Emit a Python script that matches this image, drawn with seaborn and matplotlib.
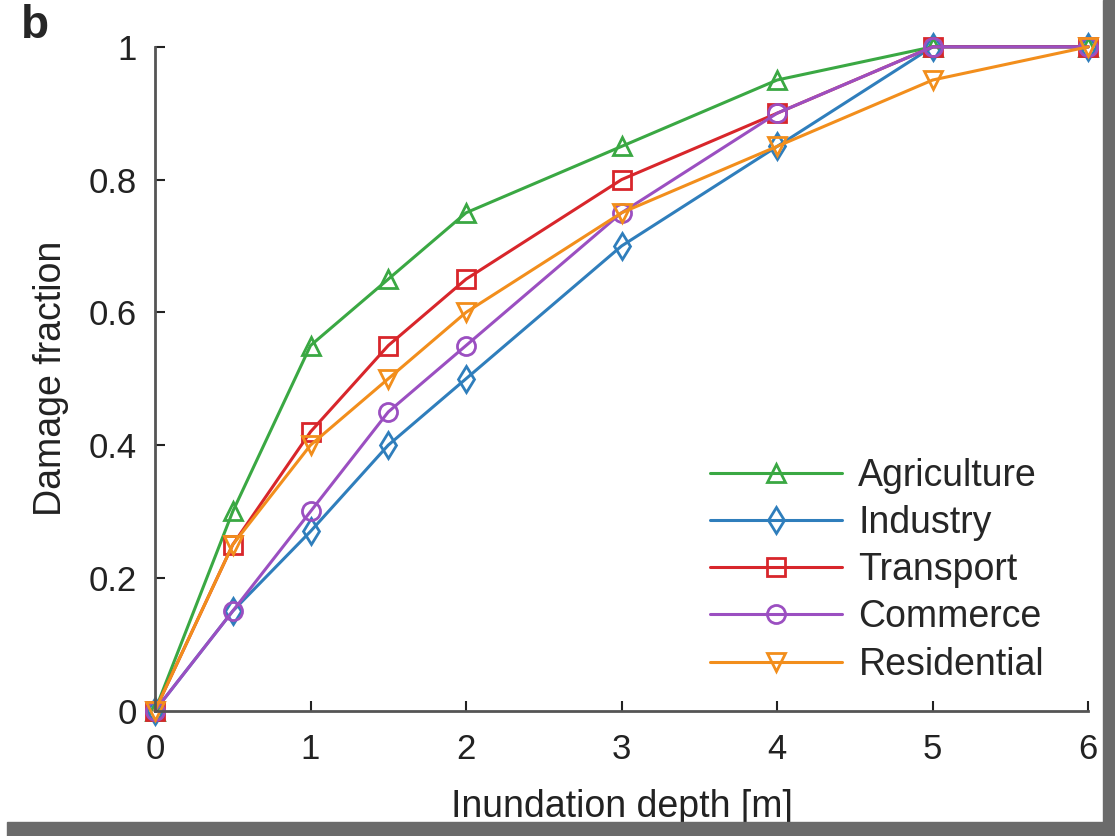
import pandas as pd
import matplotlib.pyplot as plt
import seaborn as sns
from matplotlib.patches import Rectangle

# inundation depth [m]
depth = [0, 0.5, 1, 1.5, 2, 3, 4, 5, 6]

# damage fraction per sector
agriculture = [0, 0.30, 0.55, 0.65, 0.75, 0.85, 0.95, 1.00, 1.00]
industry = [0, 0.15, 0.27, 0.40, 0.50, 0.70, 0.85, 1.00, 1.00]
transport = [0, 0.25, 0.42, 0.55, 0.65, 0.80, 0.90, 1.00, 1.00]
commerce = [0, 0.15, 0.30, 0.45, 0.55, 0.75, 0.90, 1.00, 1.00]
residential = [0, 0.25, 0.40, 0.50, 0.60, 0.75, 0.85, 0.95, 1.00]

sectors = ["Agriculture", "Industry", "Transport", "Commerce", "Residential"]
values = [agriculture, industry, transport, commerce, residential]
colors = ["#3aa843", "#2f7ebc", "#d8262b", "#9b4fc1", "#f28e1c"]
markers = ["^", "d", "s", "o", "v"]

sns.set_style("ticks")
plt.rcParams["font.family"] = ["Liberation Sans", "DejaVu Sans"]

fig = plt.figure(figsize=(11.15, 8.36), dpi=100)
ax = fig.add_axes([0.139, 0.15, 0.837, 0.794])

for name, vals, col, mk in zip(sectors, values, colors, markers):
    df = pd.DataFrame({"depth": depth, "damage": vals})
    sns.lineplot(data=df, x="depth", y="damage", ax=ax, color=col, marker=mk,
                 markersize=13, mfc="none", mec=col, mew=2, lw=2.2,
                 label=name, clip_on=False, sort=False)

ax.set_xlim(0, 6)
ax.set_ylim(0, 1)
ax.set_xticks(range(7))
ax.set_yticks([0, 0.2, 0.4, 0.6, 0.8, 1])
ax.set_yticklabels(["0", "0.2", "0.4", "0.6", "0.8", "1"])
ax.tick_params(direction="in", length=7, width=1.5, labelsize=25, colors="#222222")
ax.tick_params(axis="y", pad=13)
ax.tick_params(axis="x", pad=16)
for s in ["top", "right"]:
    ax.spines[s].set_visible(False)
for s in ["left", "bottom"]:
    ax.spines[s].set_linewidth(2)
    ax.spines[s].set_color("#555555")

ax.set_xlabel("Inundation depth [m]", fontsize=27, color="#222222", labelpad=17)
ax.set_ylabel("Damage fraction", fontsize=27, color="#222222", labelpad=14)

ax.legend(loc="upper left", bbox_to_anchor=(0.595, 0.381), frameon=False, fontsize=27,
          handlelength=3.5, labelspacing=0.3, handletextpad=0.45,
          borderpad=0, borderaxespad=0)

fig.text(0.019, 0.969, "b", fontsize=33, fontweight="bold", va="center")

# grey frame on the right and bottom edges
fig.patches.append(Rectangle((0.989, 0.0), 0.011, 1.0, transform=fig.transFigure,
                             color="#6b6b6b", zorder=10))
fig.patches.append(Rectangle((0.006, 0.0), 0.994, 0.017, transform=fig.transFigure,
                             color="#6b6b6b", zorder=10))

fig.savefig("out.png", dpi=100)
